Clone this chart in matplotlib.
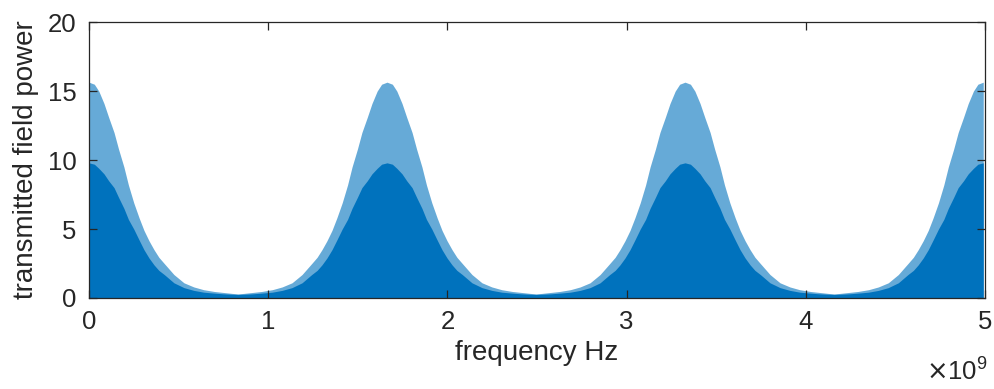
import numpy as np
import matplotlib
matplotlib.use('Agg')
import matplotlib.pyplot as plt
from matplotlib.ticker import FuncFormatter

# one resonance lobe (offset from lobe centre in GHz)
lobe_offset = [0.0, 0.03, 0.055, 0.084, 0.11, 0.14, 0.165, 0.195, 0.22, 0.25, 0.28, 0.307,
               0.335, 0.363, 0.39, 0.42, 0.474, 0.53, 0.585, 0.64, 0.70, 0.75, 0.80, 0.831]
# top of the light streaks
lobe_peak = [15.65, 15.5, 15.0, 14.1, 13.1, 12.0, 10.8, 9.5, 8.2, 6.9, 5.8, 4.9,
             4.15, 3.5, 2.95, 2.5, 1.7, 1.1, 0.8, 0.6, 0.47, 0.4, 0.33, 0.3]
# top of the solid dark core
lobe_core = [9.8, 9.7, 9.4, 9.0, 8.5, 8.0, 7.3, 6.5, 5.7, 5.0, 4.2, 3.5,
             2.9, 2.4, 2.0, 1.7, 1.1, 0.75, 0.55, 0.42, 0.35, 0.3, 0.27, 0.25]
# lobe centres (GHz)
lobe_centres = [0.0, 1.663, 3.326, 4.99]

x_ticks = [0, 1, 2, 3, 4, 5]
y_ticks = [0, 5, 10, 15, 20]

# build full curve from the lobe profile
off = np.array(lobe_offset)
sym_off = np.concatenate([-off[::-1], off[1:]])
sym_env = np.concatenate([np.array(lobe_peak)[::-1], lobe_peak[1:]])
sym_core = np.concatenate([np.array(lobe_core)[::-1], lobe_core[1:]])

xs, env, core = [], [], []
for c in lobe_centres:
    xs.append(c + sym_off)
    env.append(sym_env)
    core.append(sym_core)
xs = np.concatenate(xs)
env = np.concatenate(env)
core = np.concatenate(core)
order = np.argsort(xs)
xs, env, core = xs[order], env[order], core[order]
keep = (xs >= 0) & (xs <= 5)
xs, env, core = xs[keep] * 1e9, env[keep], core[keep]

blue = '#0072BD'
axcol = '#262626'

plt.rcParams['font.family'] = ['Liberation Sans', 'DejaVu Sans']

fig = plt.figure(figsize=(9.95, 3.89), dpi=100)
ax = fig.add_axes([0.0894, 0.234, 0.9006, 0.709])

ax.fill_between(xs, 0, env, color=blue, alpha=0.6, linewidth=0)
ax.fill_between(xs, 0, core, color=blue, linewidth=0)

ax.set_xlim(0, 5e9)
ax.set_ylim(0, 20)
ax.set_xticks([t * 1e9 for t in x_ticks])
ax.xaxis.set_major_formatter(FuncFormatter(lambda v, p: '%g' % (v / 1e9)))
ax.set_yticks(y_ticks)

for s in ax.spines.values():
    s.set_color(axcol)
    s.set_linewidth(0.9)
ax.tick_params(direction='in', length=6, width=0.9, color=axcol, labelcolor=axcol,
               labelsize=18.5, top=True, right=True, pad=9)

ax.set_xlabel('frequency Hz', fontsize=20, color=axcol, labelpad=4)
ax.set_ylabel('transmitted field power', fontsize=20, color=axcol, labelpad=6)
fig.text(0.993, 0.008, r'$\times\mathregular{10^{9}}$', ha='right', va='bottom',
         fontsize=18.5, color=axcol)

fig.savefig('out.png', dpi=100)
